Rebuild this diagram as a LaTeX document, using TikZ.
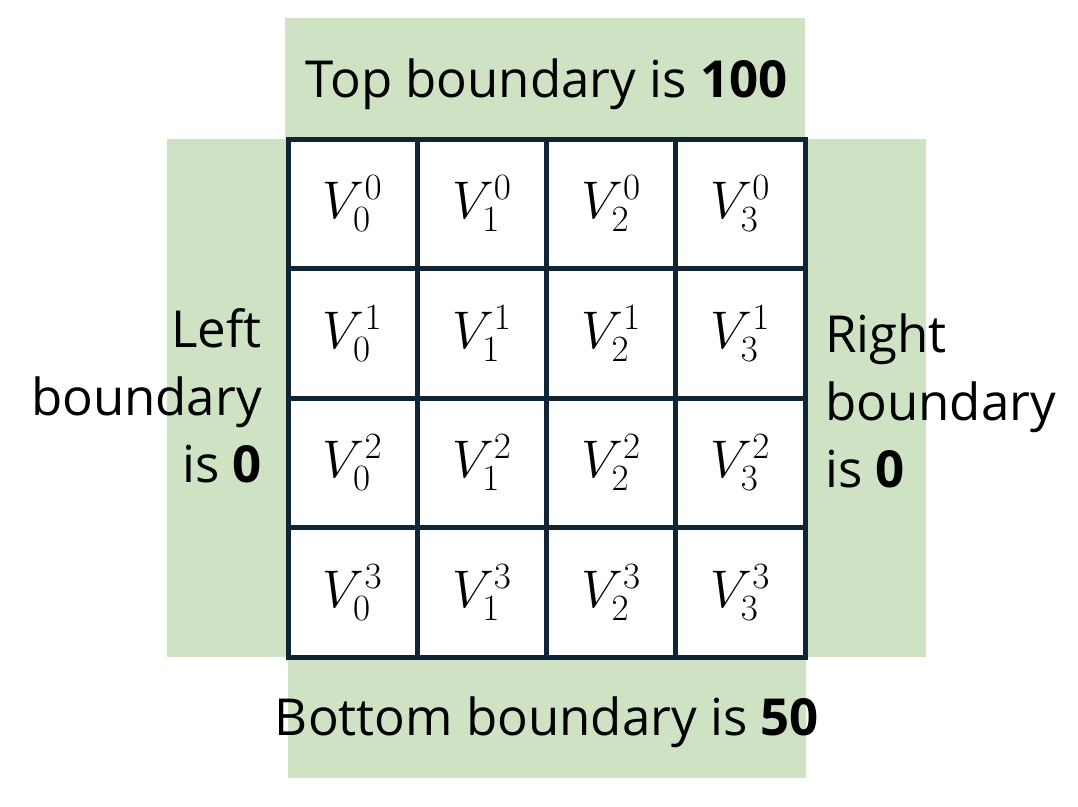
\RequirePackage{fix-cm}
\documentclass[tikz,border=0pt]{standalone}
\usepackage{fontspec}
\setmainfont{Open Sans}
\definecolor{bgreen}{HTML}{CFE2C4}
\definecolor{gridc}{HTML}{0F2434}
\begin{document}
\begin{tikzpicture}[x=1pt,y=-1pt,
  lbl/.style={font=\fontsize{51}{68}\selectfont, inner sep=0pt, text=black},
  cell/.style={font=\fontsize{53}{60}\selectfont, inner sep=0pt},
  gridline/.style={draw=gridc, line width=5pt},
  zone/.style={fill=bgreen, draw=none}]
\useasboundingbox (0,0) rectangle (1078,806);
\fill[white] (0,0) rectangle (1078,806);
% boundary zones
\fill[zone] (285,18) rectangle (805,139);
\fill[zone] (167,139) rectangle (288,657);
\fill[zone] (805,139) rectangle (926,657);
\fill[zone] (288,657) rectangle (806,778);
% grid
\foreach \i in {1,2,3} {
  \draw[gridline] ({288+129.25*\i},139) -- ({288+129.25*\i},657);
  \draw[gridline] (288,{139+129.5*\i}) -- (805,{139+129.5*\i});
}
\draw[gridline] (288,139) rectangle (805,657);
% cells
\foreach \r in {0,...,3} {
  \foreach \c in {0,...,3} {
    \node[cell] (v\r\c) at ({352.6+129.25*\c},{203.8+129.5*\r}) {$V_{\c}^{\r}$};
  }
}
% labels
\node[lbl, anchor=base] (top) at (546.5,97) {Top boundary is \textbf{100}};
\node[lbl, anchor=base] (bottom) at (547,735) {Bottom boundary is \textbf{50}};
\node[lbl, anchor=base east] (leftA) at (262,347) {Left};
\node[lbl, anchor=base east] (leftB) at (262,415) {boundary};
\node[lbl, anchor=base east] (leftC) at (262,482) {is \textbf{0}};
\node[lbl, anchor=base west] (rightA) at (825,352) {Right};
\node[lbl, anchor=base west] (rightB) at (825,420) {boundary};
\node[lbl, anchor=base west] (rightC) at (825,487) {is \textbf{0}};
\end{tikzpicture}
\end{document}
